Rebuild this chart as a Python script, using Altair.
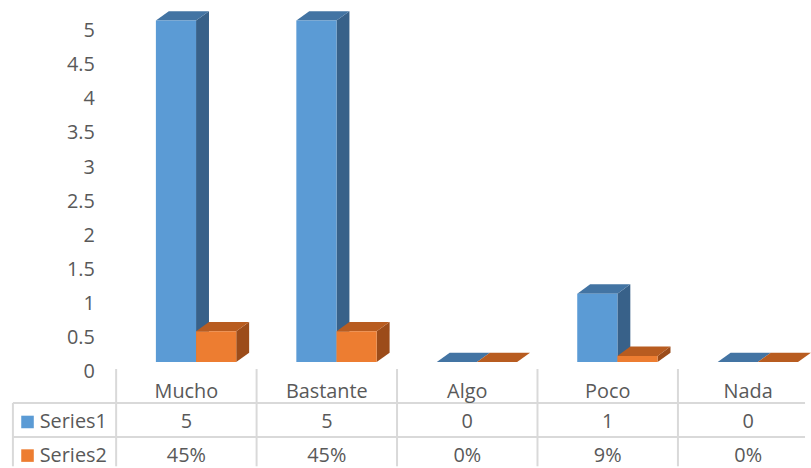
import altair as alt
import pandas as pd

# ---- data ----
categories = ["Mucho", "Bastante", "Algo", "Poco", "Nada"]
series1 = [5, 5, 0, 1, 0]
series2 = [0.45, 0.45, 0, 0.09, 0]
series_names = ["Series1", "Series2"]
y_ticks = [0, 0.5, 1, 1.5, 2, 2.5, 3, 3.5, 4, 4.5, 5]

# ---- style ----
FRONT = ["#5b9bd5", "#ed7d31"]
TOP = ["#4374a3", "#b85c20"]
SIDE = ["#386189", "#9c4c1a"]
TEXT = "#595959"
GRID = "#d9d9d9"
FONT = "Open Sans"
FS = 20

PLOT_W, PLOT_H, TABLE_H = 694, 363, 98
X_DOM = [0, 4.905]
Y_DOM = [0, 5.276]
T_DOM = [0, 2.865]
GAP, BW, DX, DY = 0.283, 0.286, 0.092, 0.138
LEG_X = -0.735          # left border of the data table (in category units)
ROW_Y = [0.69, 1.56, 2.55]

xs = alt.Scale(domain=X_DOM, nice=False, zero=False)
ys = alt.Scale(domain=Y_DOM, nice=False, zero=False)
ts = alt.Scale(domain=T_DOM, nice=False, zero=False, reverse=True)

y_axis = alt.Axis(
    values=y_ticks, format="~g", title=None, domain=False, ticks=False, grid=False,
    labelFont=FONT, labelFontSize=FS, labelColor=TEXT, labelPadding=22, labelOffset=10,
)

values = [series1, series2]

layers = []
for s, vals in enumerate(values):
    front, side, top = [], [], []
    for i, (c, v) in enumerate(zip(categories, vals)):
        xl = i + GAP + s * BW
        xr = xl + BW
        fid = f"{s}-{i}"
        front.append({"id": fid, "xl": xl, "xr": xr, "v": v, "b": 0})
        side.append({"id": fid, "x": xr, "t": v, "b": 0})
        side.append({"id": fid, "x": xr + DX, "t": v + DY, "b": DY})
        top.append({"id": fid, "y": v, "a": xl, "c": xr})
        top.append({"id": fid, "y": v + DY, "a": xl + DX, "c": xr + DX})
    side_l = alt.Chart(pd.DataFrame(side)).mark_area(orient="vertical", color=SIDE[s]).encode(
        x=alt.X("x:Q", scale=xs, axis=None),
        y=alt.Y("t:Q", scale=ys, axis=y_axis, stack=None),
        y2="b:Q",
        detail="id:N",
    )
    top_l = alt.Chart(pd.DataFrame(top)).mark_area(orient="horizontal", color=TOP[s]).encode(
        y=alt.Y("y:Q", scale=ys, axis=y_axis),
        x=alt.X("a:Q", scale=xs, axis=None, stack=None),
        x2="c:Q",
        detail="id:N",
    )
    front_l = alt.Chart(pd.DataFrame(front)).mark_bar(color=FRONT[s]).encode(
        x=alt.X("xl:Q", scale=xs, axis=None),
        x2="xr:Q",
        y=alt.Y("v:Q", scale=ys, axis=y_axis),
        y2="b:Q",
    )
    layers += [side_l, top_l, front_l]

top_chart = alt.layer(*layers).properties(width=PLOT_W, height=PLOT_H)

# ---- data table ----
hdr = pd.DataFrame({"x": [i + 0.5 for i in range(len(categories))], "label": categories, "y": ROW_Y[0]})
rows = []
for i, c in enumerate(categories):
    rows.append({"x": i + 0.5, "y": ROW_Y[1], "label": f"{series1[i]:g}"})
    rows.append({"x": i + 0.5, "y": ROW_Y[2], "label": f"{round(series2[i] * 100)}%"})
cells = pd.concat([hdr, pd.DataFrame(rows)])

text_l = alt.Chart(cells).mark_text(font=FONT, fontSize=FS, color=TEXT, align="center", baseline="middle").encode(
    x=alt.X("x:Q", scale=xs, axis=None),
    y=alt.Y("y:Q", scale=ts, axis=None),
    text="label:N",
)

vlines = pd.DataFrame({"x": list(range(len(categories))), "y1": 0, "y2": T_DOM[1]})
vrule = alt.Chart(vlines).mark_rule(color=GRID, strokeWidth=2).encode(
    x=alt.X("x:Q", scale=xs, axis=None),
    y=alt.Y("y1:Q", scale=ts, axis=None),
    y2="y2:Q",
)
lborder = pd.DataFrame({"x": [LEG_X], "y1": [1], "y2": [T_DOM[1]]})
lrule = alt.Chart(lborder).mark_rule(color=GRID, strokeWidth=2).encode(
    x=alt.X("x:Q", scale=xs, axis=None),
    y=alt.Y("y1:Q", scale=ts, axis=None),
    y2="y2:Q",
)
hlines = pd.DataFrame({"y": [1, 2], "x1": LEG_X, "x2": X_DOM[1]})
hrule = alt.Chart(hlines).mark_rule(color=GRID, strokeWidth=2).encode(
    y=alt.Y("y:Q", scale=ts, axis=None),
    x=alt.X("x1:Q", scale=xs, axis=None),
    x2="x2:Q",
)

leg = pd.DataFrame({"series": series_names, "y": ROW_Y[1:], "x": LEG_X + 0.104, "tx": LEG_X + 0.191})
leg_sq = alt.Chart(leg).mark_square(size=160, opacity=1).encode(
    x=alt.X("x:Q", scale=xs, axis=None),
    y=alt.Y("y:Q", scale=ts, axis=None),
    color=alt.Color("series:N", scale=alt.Scale(domain=series_names, range=FRONT), legend=None),
)
leg_tx = alt.Chart(leg).mark_text(font=FONT, fontSize=FS, color=TEXT, align="left", baseline="middle").encode(
    x=alt.X("tx:Q", scale=xs, axis=None),
    y=alt.Y("y:Q", scale=ts, axis=None),
    text="series:N",
)

table = alt.layer(vrule, lrule, hrule, text_l, leg_sq, leg_tx).properties(width=PLOT_W, height=TABLE_H)

chart = alt.VConcatChart(vconcat=[top_chart, table], spacing=7, bounds="flush").properties(
    padding={"left": 12, "top": 0, "right": 0, "bottom": 0},
    background="white",
).configure_view(stroke=None)

chart.save("out.html", embed_options={"renderer": "svg", "actions": False})
